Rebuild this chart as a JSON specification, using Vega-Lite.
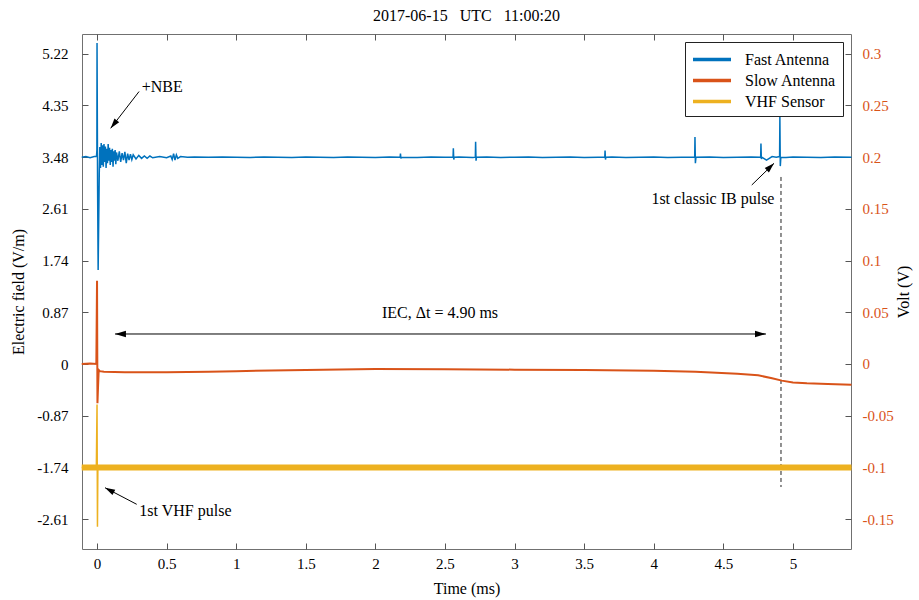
{
"$schema": "https://vega.github.io/schema/vega-lite/v6.json",
"width": 769, "height": 515, "autosize": "none",
"padding": {"left": 82, "top": 34, "right": 68, "bottom": 51},
"background": "white",
"title": {"text": "2017-06-15\u00a0\u00a0\u00a0UTC\u00a0\u00a0\u00a011:00:20", "font": "Liberation Serif", "fontSize": 16, "fontWeight": "normal", "color": "black", "offset": 10, "anchor": "middle"},
"config": {
  "view": {"stroke": "#707070", "strokeWidth": 1},
  "axis": {"labelFont": "Liberation Serif", "titleFont": "Liberation Serif", "labelFontSize": 15, "titleFontSize": 16, "titleFontWeight": "normal", "labelColor": "black", "titleColor": "black", "domain": false, "grid": false, "tickColor": "#555", "tickSize": -6, "labelFlush": false, "labelOverlap": false},
  "legend": {"labelFont": "Liberation Serif", "labelFontSize": 16, "labelColor": "black"}
},
"datasets": {
  "sig": [
    {"series": "Fast Antenna", "t": -0.11, "v": 3.48},{"series": "Fast Antenna", "t": -0.08, "v": 3.49},{"series": "Fast Antenna", "t": -0.05, "v": 3.47},{"series": "Fast Antenna", "t": -0.02, "v": 3.49},{"series": "Fast Antenna", "t": -0.004, "v": 3.49},{"series": "Fast Antenna", "t": -0.001, "v": 3.6},{"series": "Fast Antenna", "t": 0.0, "v": 5.40},{"series": "Fast Antenna", "t": 0.004, "v": 3.0},{"series": "Fast Antenna", "t": 0.008, "v": 1.58},{"series": "Fast Antenna", "t": 0.012, "v": 2.4},{"series": "Fast Antenna", "t": 0.016, "v": 3.2},{"series": "Fast Antenna", "t": 0.02, "v": 3.65},{"series": "Fast Antenna", "t": 0.025, "v": 3.30},{"series": "Fast Antenna", "t": 0.03, "v": 3.72},{"series": "Fast Antenna", "t": 0.035, "v": 3.35},{"series": "Fast Antenna", "t": 0.04, "v": 3.68},{"series": "Fast Antenna", "t": 0.045, "v": 3.32},{"series": "Fast Antenna", "t": 0.05, "v": 3.70},{"series": "Fast Antenna", "t": 0.055, "v": 3.40},{"series": "Fast Antenna", "t": 0.06, "v": 3.66},{"series": "Fast Antenna", "t": 0.065, "v": 3.30},{"series": "Fast Antenna", "t": 0.07, "v": 3.62},{"series": "Fast Antenna", "t": 0.075, "v": 3.38},{"series": "Fast Antenna", "t": 0.08, "v": 3.70},{"series": "Fast Antenna", "t": 0.085, "v": 3.42},{"series": "Fast Antenna", "t": 0.09, "v": 3.64},{"series": "Fast Antenna", "t": 0.095, "v": 3.35},{"series": "Fast Antenna", "t": 0.10, "v": 3.60},{"series": "Fast Antenna", "t": 0.105, "v": 3.40},{"series": "Fast Antenna", "t": 0.11, "v": 3.62},{"series": "Fast Antenna", "t": 0.115, "v": 3.32},{"series": "Fast Antenna", "t": 0.12, "v": 3.58},{"series": "Fast Antenna", "t": 0.125, "v": 3.42},{"series": "Fast Antenna", "t": 0.13, "v": 3.60},{"series": "Fast Antenna", "t": 0.135, "v": 3.36},{"series": "Fast Antenna", "t": 0.14, "v": 3.56},{"series": "Fast Antenna", "t": 0.15, "v": 3.42},{"series": "Fast Antenna", "t": 0.16, "v": 3.58},{"series": "Fast Antenna", "t": 0.17, "v": 3.40},{"series": "Fast Antenna", "t": 0.18, "v": 3.55},{"series": "Fast Antenna", "t": 0.19, "v": 3.43},{"series": "Fast Antenna", "t": 0.20, "v": 3.57},{"series": "Fast Antenna", "t": 0.21, "v": 3.38},{"series": "Fast Antenna", "t": 0.22, "v": 3.54},{"series": "Fast Antenna", "t": 0.23, "v": 3.43},{"series": "Fast Antenna", "t": 0.24, "v": 3.53},{"series": "Fast Antenna", "t": 0.25, "v": 3.44},{"series": "Fast Antenna", "t": 0.26, "v": 3.52},{"series": "Fast Antenna", "t": 0.28, "v": 3.45},{"series": "Fast Antenna", "t": 0.30, "v": 3.51},{"series": "Fast Antenna", "t": 0.32, "v": 3.46},{"series": "Fast Antenna", "t": 0.34, "v": 3.50},{"series": "Fast Antenna", "t": 0.36, "v": 3.46},{"series": "Fast Antenna", "t": 0.38, "v": 3.50},{"series": "Fast Antenna", "t": 0.40, "v": 3.47},{"series": "Fast Antenna", "t": 0.45, "v": 3.49},{"series": "Fast Antenna", "t": 0.50, "v": 3.47},{"series": "Fast Antenna", "t": 0.53, "v": 3.50},{"series": "Fast Antenna", "t": 0.54, "v": 3.44},{"series": "Fast Antenna", "t": 0.55, "v": 3.54},{"series": "Fast Antenna", "t": 0.56, "v": 3.43},{"series": "Fast Antenna", "t": 0.57, "v": 3.52},{"series": "Fast Antenna", "t": 0.58, "v": 3.46},{"series": "Fast Antenna", "t": 0.60, "v": 3.49},
    {"series": "Fast Antenna", "t": 0.65, "v": 3.48},{"series": "Fast Antenna", "t": 0.7, "v": 3.485},{"series": "Fast Antenna", "t": 0.8, "v": 3.48},{"series": "Fast Antenna", "t": 0.9, "v": 3.485},{"series": "Fast Antenna", "t": 1.0, "v": 3.48},{"series": "Fast Antenna", "t": 1.1, "v": 3.475},{"series": "Fast Antenna", "t": 1.2, "v": 3.485},{"series": "Fast Antenna", "t": 1.3, "v": 3.48},{"series": "Fast Antenna", "t": 1.4, "v": 3.475},{"series": "Fast Antenna", "t": 1.5, "v": 3.485},{"series": "Fast Antenna", "t": 1.6, "v": 3.48},{"series": "Fast Antenna", "t": 1.7, "v": 3.475},{"series": "Fast Antenna", "t": 1.8, "v": 3.485},{"series": "Fast Antenna", "t": 1.9, "v": 3.48},{"series": "Fast Antenna", "t": 2.0, "v": 3.475},{"series": "Fast Antenna", "t": 2.1, "v": 3.485},{"series": "Fast Antenna", "t": 2.178, "v": 3.48},{"series": "Fast Antenna", "t": 2.18, "v": 3.54},{"series": "Fast Antenna", "t": 2.183, "v": 3.46},{"series": "Fast Antenna", "t": 2.186, "v": 3.48},{"series": "Fast Antenna", "t": 2.3, "v": 3.475},{"series": "Fast Antenna", "t": 2.4, "v": 3.485},{"series": "Fast Antenna", "t": 2.5, "v": 3.48},{"series": "Fast Antenna", "t": 2.558, "v": 3.48},{"series": "Fast Antenna", "t": 2.56, "v": 3.63},{"series": "Fast Antenna", "t": 2.563, "v": 3.44},{"series": "Fast Antenna", "t": 2.566, "v": 3.48},{"series": "Fast Antenna", "t": 2.6, "v": 3.485},{"series": "Fast Antenna", "t": 2.7, "v": 3.475},{"series": "Fast Antenna", "t": 2.718, "v": 3.48},{"series": "Fast Antenna", "t": 2.72, "v": 3.74},{"series": "Fast Antenna", "t": 2.723, "v": 3.42},{"series": "Fast Antenna", "t": 2.726, "v": 3.48},{"series": "Fast Antenna", "t": 2.8, "v": 3.485},{"series": "Fast Antenna", "t": 2.9, "v": 3.475},{"series": "Fast Antenna", "t": 3.0, "v": 3.48},{"series": "Fast Antenna", "t": 3.1, "v": 3.485},{"series": "Fast Antenna", "t": 3.2, "v": 3.475},{"series": "Fast Antenna", "t": 3.3, "v": 3.48},{"series": "Fast Antenna", "t": 3.4, "v": 3.485},{"series": "Fast Antenna", "t": 3.5, "v": 3.475},{"series": "Fast Antenna", "t": 3.6, "v": 3.48},{"series": "Fast Antenna", "t": 3.648, "v": 3.48},{"series": "Fast Antenna", "t": 3.65, "v": 3.59},{"series": "Fast Antenna", "t": 3.653, "v": 3.44},{"series": "Fast Antenna", "t": 3.656, "v": 3.48},{"series": "Fast Antenna", "t": 3.7, "v": 3.485},{"series": "Fast Antenna", "t": 3.8, "v": 3.475},{"series": "Fast Antenna", "t": 3.9, "v": 3.48},{"series": "Fast Antenna", "t": 4.0, "v": 3.485},{"series": "Fast Antenna", "t": 4.1, "v": 3.475},{"series": "Fast Antenna", "t": 4.2, "v": 3.48},{"series": "Fast Antenna", "t": 4.294, "v": 3.48},{"series": "Fast Antenna", "t": 4.296, "v": 3.82},{"series": "Fast Antenna", "t": 4.299, "v": 3.38},{"series": "Fast Antenna", "t": 4.303, "v": 3.48},{"series": "Fast Antenna", "t": 4.4, "v": 3.485},{"series": "Fast Antenna", "t": 4.5, "v": 3.475},{"series": "Fast Antenna", "t": 4.6, "v": 3.48},{"series": "Fast Antenna", "t": 4.7, "v": 3.485},{"series": "Fast Antenna", "t": 4.768, "v": 3.48},{"series": "Fast Antenna", "t": 4.77, "v": 3.71},{"series": "Fast Antenna", "t": 4.773, "v": 3.45},{"series": "Fast Antenna", "t": 4.776, "v": 3.48},{"series": "Fast Antenna", "t": 4.79, "v": 3.46},{"series": "Fast Antenna", "t": 4.81, "v": 3.43},{"series": "Fast Antenna", "t": 4.83, "v": 3.46},{"series": "Fast Antenna", "t": 4.85, "v": 3.49},{"series": "Fast Antenna", "t": 4.88, "v": 3.48},{"series": "Fast Antenna", "t": 4.904, "v": 3.49},{"series": "Fast Antenna", "t": 4.906, "v": 4.16},{"series": "Fast Antenna", "t": 4.909, "v": 3.33},{"series": "Fast Antenna", "t": 4.913, "v": 3.48},{"series": "Fast Antenna", "t": 4.95, "v": 3.475},{"series": "Fast Antenna", "t": 5.0, "v": 3.485},{"series": "Fast Antenna", "t": 5.1, "v": 3.48},{"series": "Fast Antenna", "t": 5.2, "v": 3.475},{"series": "Fast Antenna", "t": 5.3, "v": 3.485},{"series": "Fast Antenna", "t": 5.42, "v": 3.48},
    {"series": "Slow Antenna", "t": -0.11, "v": 0.0},{"series": "Slow Antenna", "t": -0.05, "v": 0.01},{"series": "Slow Antenna", "t": -0.005, "v": 0.0},{"series": "Slow Antenna", "t": 0.0, "v": 1.40},{"series": "Slow Antenna", "t": 0.003, "v": -0.66},{"series": "Slow Antenna", "t": 0.007, "v": -0.40},{"series": "Slow Antenna", "t": 0.012, "v": -0.10},{"series": "Slow Antenna", "t": 0.02, "v": -0.12},{"series": "Slow Antenna", "t": 0.05, "v": -0.13},{"series": "Slow Antenna", "t": 0.2, "v": -0.14},{"series": "Slow Antenna", "t": 0.5, "v": -0.14},{"series": "Slow Antenna", "t": 0.8, "v": -0.13},{"series": "Slow Antenna", "t": 1.0, "v": -0.12},{"series": "Slow Antenna", "t": 1.5, "v": -0.10},{"series": "Slow Antenna", "t": 2.0, "v": -0.085},{"series": "Slow Antenna", "t": 2.5, "v": -0.09},{"series": "Slow Antenna", "t": 3.0, "v": -0.095},{"series": "Slow Antenna", "t": 3.5, "v": -0.10},{"series": "Slow Antenna", "t": 4.0, "v": -0.115},{"series": "Slow Antenna", "t": 4.3, "v": -0.13},{"series": "Slow Antenna", "t": 4.6, "v": -0.165},{"series": "Slow Antenna", "t": 4.75, "v": -0.19},{"series": "Slow Antenna", "t": 4.85, "v": -0.24},{"series": "Slow Antenna", "t": 4.92, "v": -0.28},{"series": "Slow Antenna", "t": 5.0, "v": -0.31},{"series": "Slow Antenna", "t": 5.1, "v": -0.325},{"series": "Slow Antenna", "t": 5.25, "v": -0.335},{"series": "Slow Antenna", "t": 5.42, "v": -0.35},
    {"series": "VHF Sensor", "t": -0.11, "v": -1.74},{"series": "VHF Sensor", "t": -0.005, "v": -1.74},{"series": "VHF Sensor", "t": 0.0, "v": -0.68},{"series": "VHF Sensor", "t": 0.003, "v": -2.74},{"series": "VHF Sensor", "t": 0.006, "v": -1.74},{"series": "VHF Sensor", "t": 1.0, "v": -1.74},{"series": "VHF Sensor", "t": 2.0, "v": -1.74},{"series": "VHF Sensor", "t": 3.0, "v": -1.74},{"series": "VHF Sensor", "t": 4.0, "v": -1.74},{"series": "VHF Sensor", "t": 5.0, "v": -1.74},{"series": "VHF Sensor", "t": 5.42, "v": -1.74}
  ],
  "arrows": [
    {"id": "nbe", "t": 0.302, "v": 4.585, "t2": 0.098, "v2": 3.966},
    {"id": "ib", "t": 4.704, "v": 3.012, "t2": 4.864, "v2": 3.377},
    {"id": "vhf", "t": 0.285, "v": -2.361, "t2": 0.0575, "v2": -2.082},
    {"id": "iec", "t": 0.129, "v": 0.505, "t2": 4.806, "v2": 0.505}
  ],
  "heads": [
    {"id": "nbe", "t": 0.098, "v": 3.966},
    {"id": "ib", "t": 4.864, "v": 3.377},
    {"id": "vhf", "t": 0.0575, "v": -2.082},
    {"id": "iecL", "t": 0.129, "v": 0.505},
    {"id": "iecR", "t": 4.806, "v": 0.505}
  ],
  "labels": [
    {"id": "nbe", "text": "+NBE", "t": 0.321, "v": 4.656, "align": "left"},
    {"id": "ib", "text": "1st classic IB pulse", "t": 4.425, "v": 2.777, "align": "center"},
    {"id": "vhf", "text": "1st VHF pulse", "t": 0.304, "v": -2.469, "align": "left"},
    {"id": "iec", "text": "IEC, \u0394t = 4.90 ms", "t": 2.464, "v": 0.858, "align": "center"}
  ]
},
"resolve": {"scale": {"y": "independent"}, "axis": {"y": "independent", "x": "independent"}},
"layer": [
  {
    "encoding": {
      "x": {"field": "t", "type": "quantitative", "scale": {"domain": [-0.108, 5.417], "nice": false, "zero": false},
        "axis": {"orient": "bottom", "values": [0,0.5,1,1.5,2,2.5,3,3.5,4,4.5,5], "format": "~g", "title": "Time (ms)", "labelPadding": 13, "titlePadding": 9}},
      "y": {"field": "v", "type": "quantitative", "scale": {"domain": [-3.113, 5.553], "nice": false, "zero": false},
        "axis": {"orient": "left", "values": [-2.61,-1.74,-0.87,0,0.87,1.74,2.61,3.48,4.35,5.22], "title": "Electric field (V/m)", "labelPadding": 20, "titlePadding": 10, "labelExpr": "replace(format(datum.value, '.2~f'), '\u2212', '-')"}}
    },
    "layer": [
      {"mark": {"type": "rule", "color": "#555", "strokeDash": [5, 3], "strokeWidth": 1}, "encoding": {"y": {"datum": 0}, "x": null}},
      {"data": {"values": [{"t": 4.914, "v": 3.147, "v2": -2.07}]}, "mark": {"type": "rule", "color": "#222", "strokeDash": [4, 3], "strokeWidth": 1}, "encoding": {"y2": {"field": "v2"}}},
      {"data": {"name": "sig"}, "transform": [{"filter": "datum.series == 'Fast Antenna'"}], "mark": {"type": "line", "strokeWidth": 1.5},
        "encoding": {"color": {"field": "series", "type": "nominal", "scale": {"domain": ["Fast Antenna", "Slow Antenna", "VHF Sensor"], "range": ["#0072BD", "#D95319", "#EDB120"]},
          "legend": {"title": null, "orient": "none", "legendX": 603, "legendY": 8, "symbolType": "M-1,0H3", "symbolStrokeWidth": 3.5, "symbolSize": 361, "strokeColor": "#222", "fillColor": "white", "padding": 6, "rowPadding": 1, "labelOffset": 31, "offset": 0}}}},
      {"data": {"name": "sig"}, "transform": [{"filter": "datum.series == 'Slow Antenna'"}], "mark": {"type": "line", "strokeWidth": 2}, "encoding": {"color": {"field": "series", "type": "nominal"}}},
      {"data": {"name": "sig"}, "transform": [{"filter": "datum.series == 'VHF Sensor'"}], "mark": {"type": "line", "strokeWidth": 1.5}, "encoding": {"color": {"field": "series", "type": "nominal"}}},
      {"data": {"name": "sig"}, "transform": [{"filter": "datum.series == 'VHF Sensor' && (datum.t <= -0.005 || datum.t >= 0.006)"}], "mark": {"type": "line", "strokeWidth": 6}, "encoding": {"color": {"field": "series", "type": "nominal"}}},
      {"data": {"name": "arrows"}, "mark": {"type": "rule", "color": "black", "strokeWidth": 1}, "encoding": {"x2": {"field": "t2"}, "y2": {"field": "v2"}}},
      {"data": {"name": "heads"}, "transform": [{"filter": "datum.id == 'nbe'"}], "mark": {"type": "point", "shape": "M0,0L-0.6,2L0.6,2Z", "filled": true, "color": "black", "opacity": 1, "size": 100, "angle": 218}},
      {"data": {"name": "heads"}, "transform": [{"filter": "datum.id == 'ib'"}], "mark": {"type": "point", "shape": "M0,0L-0.6,2L0.6,2Z", "filled": true, "color": "black", "opacity": 1, "size": 100, "angle": 46}},
      {"data": {"name": "heads"}, "transform": [{"filter": "datum.id == 'vhf'"}], "mark": {"type": "point", "shape": "M0,0L-0.6,2L0.6,2Z", "filled": true, "color": "black", "opacity": 1, "size": 100, "angle": 298}},
      {"data": {"name": "heads"}, "transform": [{"filter": "datum.id == 'iecL'"}], "mark": {"type": "point", "shape": "M0,0L-0.6,2L0.6,2Z", "filled": true, "color": "black", "opacity": 1, "size": 120, "angle": 270}},
      {"data": {"name": "heads"}, "transform": [{"filter": "datum.id == 'iecR'"}], "mark": {"type": "point", "shape": "M0,0L-0.6,2L0.6,2Z", "filled": true, "color": "black", "opacity": 1, "size": 120, "angle": 90}},
      {"data": {"name": "labels"}, "transform": [{"filter": "datum.align == 'left'"}], "mark": {"type": "text", "align": "left", "baseline": "middle", "font": "Liberation Serif", "fontSize": 16, "color": "black"}, "encoding": {"text": {"field": "text"}}},
      {"data": {"name": "labels"}, "transform": [{"filter": "datum.align == 'center'"}], "mark": {"type": "text", "align": "center", "baseline": "middle", "font": "Liberation Serif", "fontSize": 16, "color": "black"}, "encoding": {"text": {"field": "text"}}}
    ]
  },
  {
    "data": {"values": [{"t": 0, "volt": 0}]},
    "mark": {"type": "point", "opacity": 0},
    "encoding": {
      "x": {"field": "t", "type": "quantitative", "scale": {"domain": [-0.108, 5.417], "nice": false, "zero": false},
        "axis": {"orient": "top", "values": [0,0.5,1,1.5,2,2.5,3,3.5,4,4.5,5], "labels": false, "title": null}},
      "y": {"field": "volt", "type": "quantitative", "scale": {"domain": [-0.1789, 0.3191], "nice": false, "zero": false},
        "axis": {"orient": "right", "values": [-0.15,-0.1,-0.05,0,0.05,0.1,0.15,0.2,0.25,0.3], "title": "Volt (V)", "titleAngle": 270, "labelColor": "#D95319", "labelPadding": 17, "titlePadding": 18, "labelExpr": "replace(format(datum.value, '.2~f'), '\u2212', '-')"}}
    }
  }
]
}
